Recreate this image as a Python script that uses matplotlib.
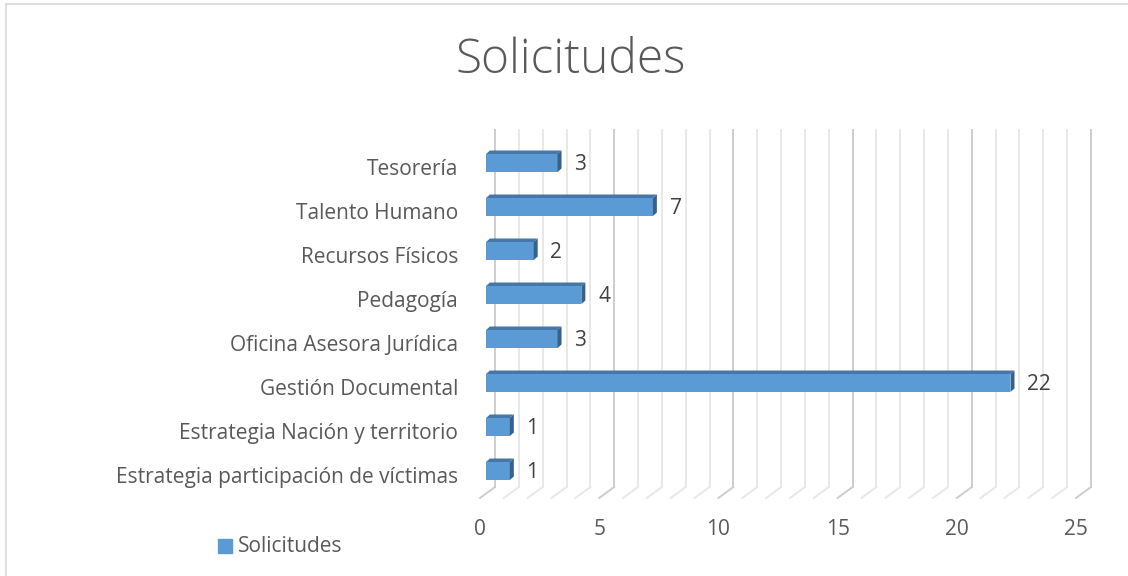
import matplotlib
matplotlib.use('Agg')
import matplotlib.pyplot as plt
from matplotlib.patches import Polygon, Rectangle
from matplotlib.lines import Line2D

# datos
categorias = ['Estrategia participación de víctimas', 'Estrategia Nación y territorio',
              'Gestión Documental', 'Oficina Asesora Jurídica', 'Pedagogía',
              'Recursos Físicos', 'Talento Humano', 'Tesorería']
valores = [1, 1, 22, 3, 4, 2, 7, 3]
ticks_x = [0, 5, 10, 15, 20, 25]
titulo = 'Solicitudes'
serie = 'Solicitudes'

plt.rcParams['font.family'] = ['Open Sans', 'DejaVu Sans']
fs = 15

W, H = 1128, 576
fig = plt.figure(figsize=(W / 100, H / 100), dpi=100)
ax = fig.add_axes([486 / W, 83 / H, 596 / W, 352 / H])
ax.set_xlim(0, 25)
ax.set_ylim(-0.5, 7.5)
ax.axis('off')

# unidades de datos por pixel
px_x = 25 / 596
px_y = 8 / 352
BX, BY = 9 * px_x, 6 * px_y      # pared del fondo
FX, FY = -6 * px_x, -5 * px_y    # borde frontal del piso
top_y = 7.75

# rejilla 3D
for v in range(26):
    c = '#cdcdcd' if v % 5 == 0 else '#e8e8e8'
    ax.plot([v + BX, v + BX], [-0.5 + BY, top_y], color=c, lw=1.4, zorder=1, clip_on=False)
    ax.plot([v + BX, v + FX], [-0.5 + BY, -0.5 + FY], color=c, lw=1.4, zorder=1, clip_on=False)

# barras 3D
h = 18 * px_y
ddx, ddy = 4 * px_x, 3.5 * px_y
ys = list(range(len(categorias)))
ax.barh(ys, valores, height=h, color='#5b9bd5', zorder=3)
for y, v in zip(ys, valores):
    yt, yb = y + h / 2, y - h / 2
    ax.add_patch(Polygon([(0, yt), (v, yt), (v + ddx, yt + ddy), (ddx, yt + ddy)],
                         closed=True, color='#4677a8', zorder=4, lw=0))
    ax.add_patch(Polygon([(v, yb), (v, yt), (v + ddx, yt + ddy), (v + ddx, yb + ddy)],
                         closed=True, color='#35618d', zorder=4, lw=0))
    ax.text(v + 0.7, y - 0.03, str(v), ha='left', va='center', fontsize=fs, color='#404040')
    ax.text(-1.17, y - 0.15, categorias[y], ha='right', va='center', fontsize=fs,
            color='#595959', clip_on=False)

for t in ticks_x:
    ax.text(t + FX, -1.32, str(t), ha='center', va='center', fontsize=fs, color='#595959')

# titulo
fig.text(571 / W, 1 - 61 / H, titulo, ha='center', va='center', fontsize=34.5,
         fontweight='light', color='#595959')

# leyenda
fig.add_artist(Rectangle((218 / W, 1 - 553 / H), 14 / W, 14 / H, transform=fig.transFigure,
                         color='#5b9bd5'))
fig.text(238 / W, 1 - 546 / H, serie, ha='left', va='center', fontsize=fs, color='#595959')

# borde del grafico
fig.add_artist(Line2D([5.5 / W, 5.5 / W], [0, 1 - 4 / H], transform=fig.transFigure,
                      color='#d9d9d9', lw=1.2))
fig.add_artist(Line2D([5.5 / W, 1], [1 - 4 / H, 1 - 4 / H], transform=fig.transFigure,
                      color='#d9d9d9', lw=1.2))

fig.savefig('out.png', dpi=100)
